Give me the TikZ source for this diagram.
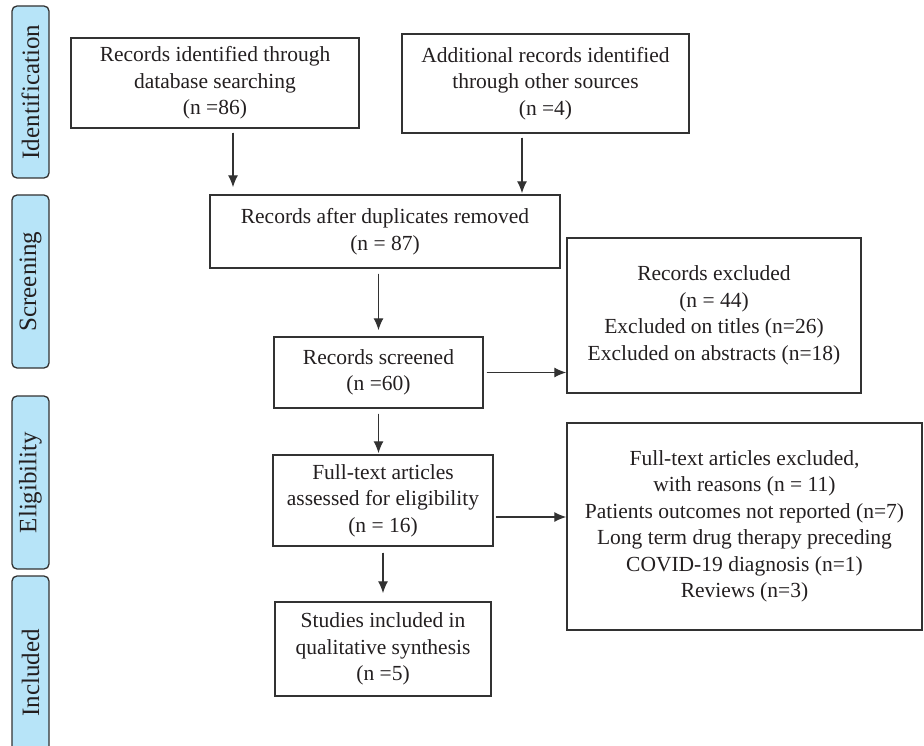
\documentclass[tikz,border=0pt]{standalone}
\usepackage{fontspec}
\setmainfont{Liberation Serif}
\usepackage{tikz}
\usetikzlibrary{calc,arrows.meta,positioning}
\tikzset{>={Latex[length=12pt,width=10pt]}}
\definecolor{phase}{RGB}{183,228,248}
\definecolor{edge}{RGB}{50,50,50}
\definecolor{ink}{RGB}{35,31,32}
\tikzset{
  box/.style={draw=edge, line width=1.4pt, text=ink, align=center, inner sep=0pt,
    font=\fontsize{21.5}{26.5}\selectfont},
  phasebox/.style={draw=edge, fill=phase, line width=1.3pt, rounded corners=5pt,
    rotate=90, minimum height=37pt, inner sep=0pt, text=ink,
    font=\fontsize{25}{28}\selectfont},
  arr/.style={->, line width=1.3pt, draw=edge, fill=edge},
}

\begin{document}
\begin{tikzpicture}[x=1pt, y=-1pt]
\useasboundingbox (0,0) rectangle (924,746);
\clip (0,0) rectangle (924,746);
% phases
\node[phasebox, minimum width=172pt] (pid) at (30.5,92) {Identification};
\node[phasebox, minimum width=173pt] (psc) at (30.5,281.5) {Screening};
\node[phasebox, minimum width=173pt] (pel) at (30.5,482.5) {Eligibility};
\node[phasebox, minimum width=194pt] (pin) at (30.5,673) {Included};
% boxes
\node[box, minimum width=288pt, minimum height=90pt] (rid) at (215,83)
  {Records identified through\\database searching\\(n =86)};
\node[box, minimum width=287pt, minimum height=99pt] (ros) at (545.5,83.5)
  {Additional records identified\\through other sources\\(n =4)};
\node[box, minimum width=350pt, minimum height=73pt] (dup) at (385,231.5)
  {Records after duplicates removed\\(n = 87)};
\node[box, minimum width=209pt, minimum height=71pt] (scr) at (378.5,372.5)
  {Records screened\\(n =60)};
\node[box, minimum width=294pt, minimum height=155pt] (rex) at (714,315.5)
  {Records excluded\\(n = 44)\\Excluded on titles (n=26)\\Excluded on abstracts (n=18)};
\node[box, minimum width=220pt, minimum height=91pt] (ft) at (383,500.5)
  {Full-text articles\\assessed for eligibility\\(n = 16)};
\node[box, minimum width=355pt, minimum height=207pt] (fex) at (744.5,526.5)
  {Full-text articles excluded,\\with reasons (n = 11)\\Patients outcomes not reported (n=7)\\Long term drug therapy preceding\\COVID-19 diagnosis (n=1)\\Reviews (n=3)};
\node[box, minimum width=216pt, minimum height=94pt] (inc) at (383,649)
  {Studies included in\\qualitative synthesis\\(n =5)};
% arrows
\draw[arr, shorten <=4pt, shorten >=7pt] ([xshift=18pt]rid.south) -- ([xshift=18pt]rid.south |- dup.north);
\draw[arr, shorten <=4pt, shorten >=1pt] ([xshift=-23.5pt]ros.south) -- ([xshift=-23.5pt]ros.south |- dup.north);
\draw[arr, shorten <=5pt, shorten >=6pt] (dup.south -| scr.north) -- (scr.north);
\draw[arr, shorten <=5pt, shorten >=1pt] (scr.south) -- (scr.south |- ft.north);
\draw[arr, shorten <=6pt, shorten >=8pt] (ft.south) -- (inc.north);
\draw[arr, shorten <=3pt] (scr.east) -- (scr.east -| rex.west);
\draw[arr, shorten <=2pt] ([yshift=-16.5pt]ft.east) -- ([yshift=-16.5pt]ft.east -| fex.west);
\end{tikzpicture}
\end{document}
